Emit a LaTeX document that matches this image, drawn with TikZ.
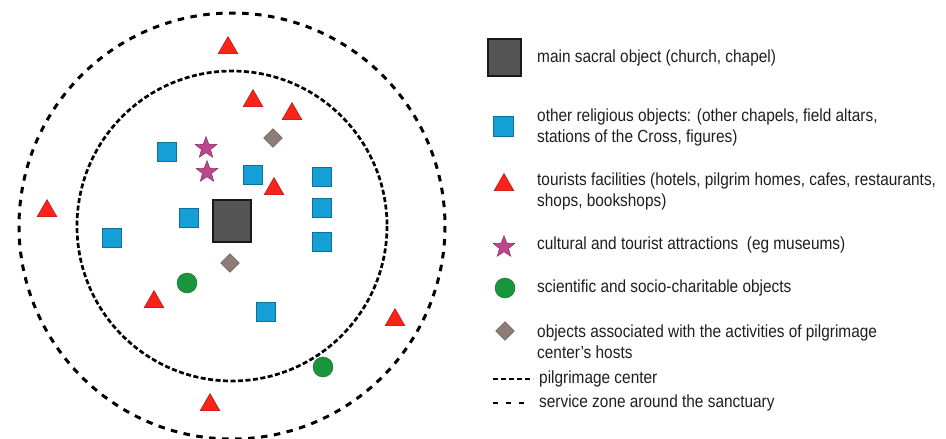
\documentclass[tikz,border=0pt]{standalone}
\usepackage{fontspec}
\setmainfont[FakeStretch=0.88]{Liberation Sans}
\usetikzlibrary{shapes.geometric}
\definecolor{cblue}{RGB}{20,160,215}
\definecolor{cred}{RGB}{250,35,25}
\definecolor{cstar}{RGB}{190,70,140}
\definecolor{cgreen}{RGB}{25,150,60}
\definecolor{cdia}{RGB}{140,125,120}
\definecolor{cmain}{RGB}{85,85,85}
\definecolor{ctext}{RGB}{30,30,30}
\tikzset{
  sq/.style={rectangle, fill=cblue, draw=cblue!70!black, line width=0.4pt, minimum size=19pt, inner sep=0pt},
  tri/.style={regular polygon, regular polygon sides=3, fill=cred, draw=cred!60!black, line width=0.4pt, minimum size=23pt, inner sep=0pt},
  str/.style={star, star points=5, star point ratio=2.4, fill=cstar, draw=cstar!60!black, line width=0.4pt, minimum size=23pt, inner sep=0pt},
  grn/.style={circle, fill=cgreen, draw=cgreen!70!black, line width=0.4pt, minimum size=20pt, inner sep=0pt},
  dia/.style={diamond, fill=cdia, draw=cdia!60!black, line width=0.4pt, minimum size=19pt, inner sep=0pt},
  mainobj/.style={rectangle, fill=cmain, draw=black!90, line width=2.5pt, minimum width=38pt, minimum height=42pt, inner sep=0pt},
  leg/.style={anchor=west, font=\fontsize{17.5}{21.5}\selectfont, text=ctext, align=left, inner sep=0pt},
  innerzone/.style={line width=2.7pt, dash pattern=on 5pt off 2.5pt},
  outerzone/.style={line width=3pt, dash pattern=on 6.5pt off 6.5pt}
}
\begin{document}
\begin{tikzpicture}[x=1pt,y=-1pt]
\useasboundingbox (0,0) rectangle (946,439);
% zones
\coordinate (ctr) at (232,226);
\draw[outerzone] (ctr) circle[radius=213];
\draw[innerzone] (ctr) circle[radius=155];
% main object
\node[mainobj] (main) at (232,221) {};
% blue squares
\node[sq] (s1) at (167,152) {};
\node[sq] (s2) at (253,175) {};
\node[sq] (s3) at (322,177) {};
\node[sq] (s4) at (322,208) {};
\node[sq] (s5) at (322,242) {};
\node[sq] (s6) at (189,218) {};
\node[sq] (s7) at (112,238) {};
\node[sq] (s8) at (266,312) {};
% triangles
\node[tri] (t1) at (228,48) {};
\node[tri] (t2) at (253,101) {};
\node[tri] (t3) at (292,114) {};
\node[tri] (t4) at (274,189) {};
\node[tri] (t5) at (47,211) {};
\node[tri] (t6) at (154,302) {};
\node[tri] (t7) at (395,320) {};
\node[tri] (t8) at (210,405) {};
% stars
\node[str] (a1) at (206,148) {};
\node[str] (a2) at (207,172) {};
% diamonds
\node[dia] (d1) at (273,138) {};
\node[dia] (d2) at (230,263) {};
% green
\node[grn] (g1) at (187,283) {};
\node[grn] (g2) at (323,367) {};
% legend
\node[mainobj, minimum width=33pt, minimum height=37pt] (lmain) at (504.5,57.5) {};
\node[leg] (lmaint) at (537,58) {main sacral object (church, chapel)};
\node[sq, minimum size=20pt] (lsq) at (503.5,126) {};
\node[leg] (lsqt) at (537,127.5) {other religious objects: (other chapels, field altars,\\stations of the Cross, figures)};
\node[tri] (ltri) at (504,185) {};
\node[leg] (ltrit) at (537,191.5) {tourists facilities (hotels, pilgrim homes, cafes, restaurants,\\shops, bookshops)};
\node[str] (lstr) at (504,247) {};
\node[leg] (lstrt) at (537,245) {cultural and tourist attractions \ (eg museums)};
\node[grn] (lgrn) at (505,288) {};
\node[leg] (lgrnt) at (537,288) {scientific and socio-charitable objects};
\node[dia] (ldia) at (505,331) {};
\node[leg] (ldiat) at (537,341.5) {objects associated with the activities of pilgrimage\\center’s hosts};
\coordinate (li1) at (493,379);
\coordinate (li2) at (533,379);
\draw[line width=2pt, dash pattern=on 5pt off 3pt] (li1) -- (li2);
\node[leg] (lit) at (539,379) {pilgrimage center};
\coordinate (lo1) at (493,403);
\coordinate (lo2) at (530,403);
\draw[line width=2pt, dash pattern=on 5pt off 8pt] (lo1) -- (lo2);
\node[leg] (lot) at (539,403) {service zone around the sanctuary};
\end{tikzpicture}
\end{document}
